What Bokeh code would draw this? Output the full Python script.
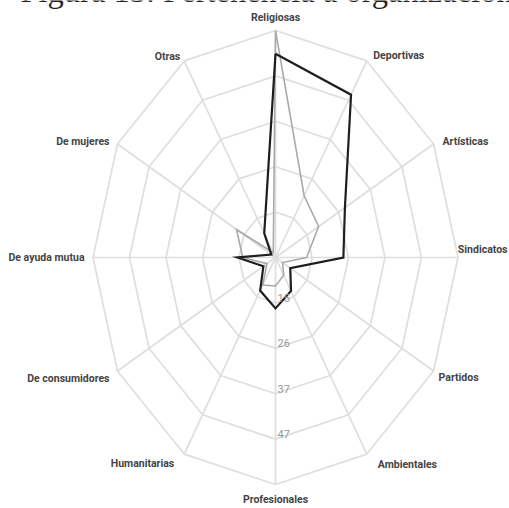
import numpy as np
from bokeh.plotting import figure
from bokeh.models import ColumnDataSource, Range1d
from bokeh.core.properties import value
from bokeh.embed import file_html
from bokeh.resources import INLINE

# ---- data ----
title = "Figura 13: Pertenencia a organizaciones"
categories = ["Religiosas", "Deportivas", "Artísticas", "Sindicatos", "Partidos",
              "Ambientales", "Profesionales", "Humanitarias", "De consumidores",
              "De ayuda mutua", "De mujeres", "Otras"]
serie_negra = [52.6, 48.9, 28.1, 24.5, 9.6, 13.7, 16.6, 13.6, 8.7, 15.8, 6.0, 11.2]
serie_gris = [58.1, 21.4, 19.2, 13.7, 7.0, 9.4, 11.3, 12.1, 7.5, 14.2, 17.8, 5.9]
tick_labels = ["15", "26", "37", "47"]
scale_min = 4.6     # value at the centre
scale_step = 10.7   # value per ring
n_rings = 5

# ---- geometry ----
W, H = 509, 508
cx, cy = 275, 257          # centre in canvas px
px_x, px_y = 36.5, 45.4    # px per ring unit

p = figure(width=W, height=H, output_backend="svg", toolbar_location=None,
           x_range=Range1d(-cx / px_x, (W - cx) / px_x),
           y_range=Range1d(-(H - cy) / px_y, cy / px_y),
           min_border=0)
p.axis.visible = False
p.xgrid.visible = False
p.ygrid.visible = False
p.outline_line_color = None
p.background_fill_color = "white"

n = len(categories)
ang = np.deg2rad(90 - 30 * np.arange(n))
ca, sa = np.cos(ang), np.sin(ang)

def to_r(vals):
    return (np.array(vals) - scale_min) / scale_step

grid_col = "#dedede"
rings_x = [list(np.append(ca * k, ca[0] * k)) for k in range(1, n_rings + 1)]
rings_y = [list(np.append(sa * k, sa[0] * k)) for k in range(1, n_rings + 1)]
p.multi_line(rings_x, rings_y, line_color=grid_col, line_width=1.7)
p.segment(x0=np.zeros(n), y0=np.zeros(n), x1=ca * n_rings, y1=sa * n_rings,
          line_color=grid_col, line_width=1.7)

for vals, col, lw in [(serie_gris, "#a9a9a9", 1.6), (serie_negra, "#1e1e1e", 2.2)]:
    r = to_r(vals)
    xs = np.append(r * ca, r[0] * ca[0])
    ys = np.append(r * sa, r[0] * sa[0])
    p.line(xs, ys, line_color=col, line_width=lw, line_join="miter")

font = value("Roboto")

# category labels (offsets in screen px from the outer vertex)
offx = [0, 6.5, 9, 49.5, 5, 11, 0, -10, -8, -8.5, -8, -4]
offy = [-13, -5, -3, -8, 6, 10, 15, 9, 7, 0, -2.5, -4]
align = ["center", "left", "left", "right", "left", "left", "center",
         "right", "right", "right", "right", "right"]
lab = ColumnDataSource(dict(x=ca * n_rings, y=sa * n_rings, t=categories,
                            xo=offx, yo=offy, al=align))
p.text(x="x", y="y", text="t", x_offset="xo", y_offset="yo", text_align="al",
       text_baseline="middle", source=lab, text_font=font,
       text_font_size="10.5px", text_font_style="bold", text_color="#444444")

# tick labels along the bottom spoke
tk = ColumnDataSource(dict(x=[2 / px_x] * len(tick_labels),
                           y=[-k for k in range(1, len(tick_labels) + 1)],
                           t=tick_labels))
p.text(x="x", y="y", text="t", source=tk, text_font=font, text_font_size="11px",
       text_align="left", text_baseline="bottom", y_offset=-1, text_color="#9a9a9a")

# title, cut off by the top edge as in the reference
p.text(x=[(20 - cx) / px_x], y=[(cy + 10) / px_y], text=[title],
       text_font=value("Liberation Serif"), text_font_size="32.5px",
       text_align="left", text_baseline="middle", text_color="#222222")

open("out.html", "w").write(file_html(p, INLINE))
